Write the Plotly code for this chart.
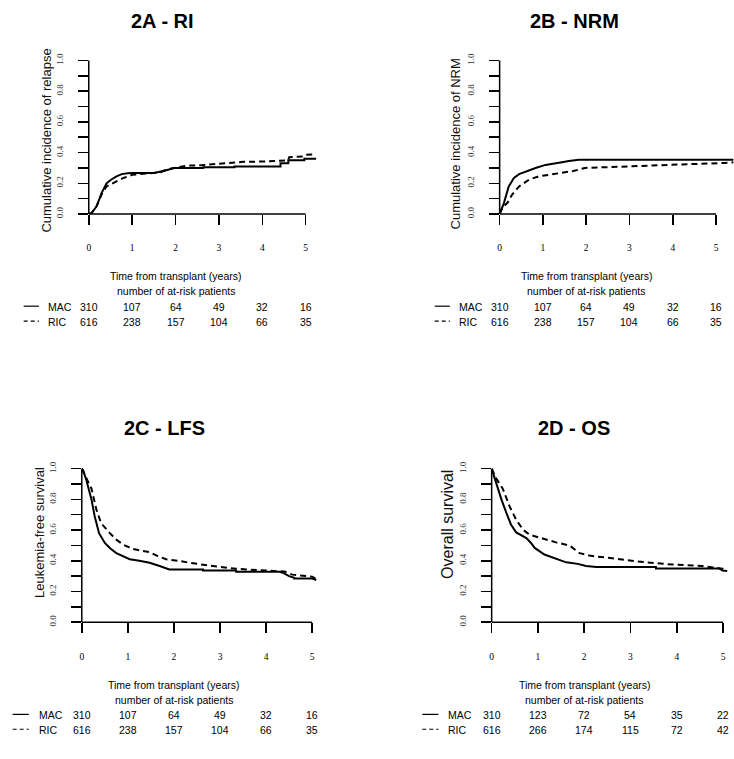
import plotly.graph_objects as go

W, H = 734, 759
OFF = 0

# ---------------- data ----------------
panel_titles = ["2A - RI", "2B - NRM", "2C - LFS", "2D - OS"]
y_titles = ["Cumulative incidence of relapse", "Cumulative incidence of NRM",
            "Leukemia-free survival", "Overall survival"]
x_title = "Time from transplant (years)"
risk_title = "number of at-risk patients"
group_names = ["MAC", "RIC"]

x_tick_vals = [0, 1, 2, 3, 4, 5]
x_tick_text = ["0", "1", "2", "3", "4", "5"]
y_tick_vals = [0.0, 0.1, 0.2, 0.3, 0.4, 0.5, 0.6, 0.7, 0.8, 0.9, 1.0]
y_tick_text = ["0.0", "", "0.2", "", "0.4", "", "0.6", "", "0.8", "", "1.0"]

# 2A - relapse incidence
a_mac_t = [0, 0.06, 0.18, 0.30, 0.41, 0.52, 0.64, 0.76, 0.9, 1.0, 1.5, 1.6, 1.72, 1.85, 1.95,
           2.64, 2.64, 3.36, 3.36, 4.42, 4.42, 4.6, 4.6, 4.97, 4.97, 5.24]
a_mac_v = [0, 0.005, 0.05, 0.14, 0.20, 0.225, 0.245, 0.26, 0.265, 0.267, 0.267, 0.272, 0.28, 0.29, 0.30,
           0.30, 0.305, 0.305, 0.31, 0.31, 0.33, 0.33, 0.35, 0.35, 0.36, 0.36]
a_ric_t = [0, 0.06, 0.18, 0.30, 0.41, 0.64, 0.8, 1.0, 1.3, 1.5, 1.65, 1.8, 2.0, 2.26, 2.6, 2.95,
           3.3, 3.56, 4.0, 4.4, 4.45, 4.6, 4.62, 4.95, 5.0, 5.24]
a_ric_v = [0, 0.005, 0.05, 0.13, 0.18, 0.21, 0.235, 0.255, 0.265, 0.267, 0.272, 0.29, 0.30, 0.315, 0.318, 0.325,
           0.33, 0.34, 0.342, 0.345, 0.35, 0.35, 0.37, 0.375, 0.385, 0.39]

# 2B - non-relapse mortality
b_mac_t = [0, 0.1, 0.21, 0.33, 0.45, 0.6, 0.83, 1.06, 1.2, 1.44, 1.6, 1.83, 5.45]
b_mac_v = [0, 0.073, 0.18, 0.235, 0.26, 0.277, 0.30, 0.32, 0.325, 0.337, 0.345, 0.353, 0.353]
b_ric_t = [0, 0.06, 0.18, 0.29, 0.45, 0.68, 0.9, 1.2, 1.44, 1.7, 1.97, 2.5, 2.98, 3.6, 4.2, 4.8, 5.2, 5.45]
b_ric_v = [0, 0.04, 0.073, 0.127, 0.18, 0.224, 0.245, 0.257, 0.267, 0.28, 0.30, 0.305, 0.31, 0.315,
           0.32, 0.325, 0.333, 0.338]

# 2C - leukemia-free survival
c_mac_t = [0, 0.03, 0.1, 0.21, 0.28, 0.375, 0.5, 0.62, 0.75, 0.9, 1.04, 1.25, 1.47, 1.69, 1.9,
           2.63, 2.63, 3.35, 3.35, 4.3, 4.38, 4.5, 4.61, 4.61, 5.0, 5.09]
c_mac_v = [1.0, 0.99, 0.925, 0.80, 0.69, 0.58, 0.516, 0.48, 0.45, 0.43, 0.41, 0.40, 0.387, 0.366, 0.344,
           0.344, 0.337, 0.337, 0.328, 0.328, 0.32, 0.30, 0.29, 0.284, 0.284, 0.275]
c_ric_t = [0, 0.05, 0.1, 0.21, 0.32, 0.42, 0.61, 0.75, 0.9, 1.11, 1.3, 1.47, 1.65, 1.83, 2.1, 2.34,
           2.84, 3.35, 3.8, 4.14, 4.4, 4.57, 4.8, 5.0, 5.09]
c_ric_v = [1.0, 0.97, 0.935, 0.87, 0.73, 0.645, 0.58, 0.538, 0.505, 0.477, 0.465, 0.456, 0.43, 0.41, 0.40,
           0.387, 0.366, 0.348, 0.34, 0.333, 0.33, 0.31, 0.305, 0.297, 0.28]

# 2D - overall survival
d_mac_t = [0, 0.1, 0.21, 0.32, 0.42, 0.53, 0.65, 0.75, 0.85, 0.93, 1.14, 1.39, 1.61, 1.86, 2.04, 2.26,
           3.55, 3.55, 4.91, 4.99, 5.09]
d_mac_v = [1.0, 0.90, 0.80, 0.71, 0.634, 0.585, 0.565, 0.548, 0.516, 0.484, 0.441, 0.413, 0.39, 0.38,
           0.366, 0.36, 0.36, 0.35, 0.35, 0.337, 0.333]
d_ric_t = [0, 0.1, 0.24, 0.39, 0.53, 0.68, 0.82, 1.11, 1.39, 1.68, 1.8, 1.9, 2.11, 2.5, 2.83, 3.33,
           3.9, 4.55, 4.99, 5.07]
d_ric_v = [1.0, 0.935, 0.87, 0.753, 0.667, 0.602, 0.57, 0.542, 0.52, 0.50, 0.47, 0.45, 0.434, 0.42,
           0.41, 0.39, 0.376, 0.366, 0.348, 0.34]

# number at risk
a_mac_risk = [310, 107, 64, 49, 32, 16]
a_ric_risk = [616, 238, 157, 104, 66, 35]
b_mac_risk = [310, 107, 64, 49, 32, 16]
b_ric_risk = [616, 238, 157, 104, 66, 35]
c_mac_risk = [310, 107, 64, 49, 32, 16]
c_ric_risk = [616, 238, 157, 104, 66, 35]
d_mac_risk = [310, 123, 72, 54, 35, 22]
d_ric_risk = [616, 266, 174, 115, 72, 42]

# ---------------- layout (window pixels) ----------------
panels = [
    dict(x0=87, ppy=43.5, y0=213, xmax=5.4, tx=161, ty=18, ytx=45, yty=139, ytsize=13,
         mac=(a_mac_t, a_mac_v), ric=(a_ric_t, a_ric_v), risk=(a_mac_risk, a_ric_risk)),
    dict(x0=499, ppy=43.4, y0=213, xmax=5.4, tx=574, ty=18, ytx=455, yty=142, ytsize=13,
         mac=(b_mac_t, b_mac_v), ric=(b_ric_t, b_ric_v), risk=(b_mac_risk, b_ric_risk)),
    dict(x0=80, ppy=46.2, y0=625, xmax=5.4, tx=163, ty=429, ytx=37, yty=534, ytsize=13,
         mac=(c_mac_t, c_mac_v), ric=(c_ric_t, c_ric_v), risk=(c_mac_risk, c_ric_risk)),
    dict(x0=491, ppy=46.4, y0=625, xmax=5.2, tx=574, ty=429, ytx=446, yty=526, ytsize=16,
         mac=(d_mac_t, d_mac_v), ric=(d_ric_t, d_ric_v), risk=(d_mac_risk, d_ric_risk)),
]
PPU = 155      # pixels per unit on y
YMAX = 1.03
SANS = "Liberation Sans, Arial, sans-serif"
SERIF = "Liberation Serif, Times New Roman, serif"

fig = go.Figure()
annotations = []
shapes = []
layout_axes = {}


def px(xp):
    return (xp - OFF) / W


def py(yp):
    return 1 - (yp - OFF) / H


for i, p in enumerate(panels):
    n = i + 1
    xs = "x" if n == 1 else f"x{n}"
    ys = "y" if n == 1 else f"y{n}"
    xa = "xaxis" if n == 1 else f"xaxis{n}"
    ya = "yaxis" if n == 1 else f"yaxis{n}"

    for (t, v), dash in ((p["mac"], "solid"), (p["ric"], "6px,4px")):
        fig.add_trace(go.Scatter(x=t, y=v, xaxis=xs, yaxis=ys, mode="lines",
                                 line=dict(color="black", width=2, dash=dash),
                                 showlegend=False, hoverinfo="skip"))

    right = min(p["x0"] + p["xmax"] * p["ppy"], OFF + W)
    layout_axes[xa] = dict(
        domain=[px(p["x0"]), px(right)],
        range=[0, (right - p["x0"]) / p["ppy"]], anchor=ys,
        showgrid=False, zeroline=False, showline=False,
        ticks="outside", ticklen=10, tickwidth=1.5, tickcolor="black",
        tickvals=x_tick_vals, ticktext=x_tick_text, ticklabelstandoff=15,
        tickfont=dict(family=SERIF, size=9.5, color="black"), fixedrange=True)
    layout_axes[ya] = dict(
        domain=[py(p["y0"]), py(p["y0"] - YMAX * PPU)],
        range=[0, YMAX], anchor=xs, showgrid=False, zeroline=False, showline=False,
        ticks="outside", ticklen=10, tickwidth=1.5, tickcolor="black",
        tickvals=y_tick_vals, ticktext=y_tick_text, tickangle=-90, ticklabelstandoff=11,
        tickfont=dict(family=SERIF, size=9, color="#333"), fixedrange=True)

    # axis lines spanning the tick range only (R style)
    shapes.append(dict(type="line", xref=xs, yref=f"{ys} domain", x0=0, x1=5, y0=0, y1=0,
                       line=dict(color="black", width=1.5)))
    shapes.append(dict(type="line", xref=f"{xs} domain", yref=ys, x0=0, x1=0, y0=0, y1=1,
                       line=dict(color="black", width=1.5)))

    # titles
    annotations.append(dict(text=f"<b>{panel_titles[i]}</b>", xref="paper", yref="paper",
                            x=px(p["tx"]), y=py(p["ty"]), xanchor="center", yanchor="middle",
                            showarrow=False, font=dict(family=SANS, size=20, color="black")))
    annotations.append(dict(text=y_titles[i], xref="paper", yref="paper", textangle=-90,
                            x=px(p["ytx"]), y=py(p["yty"]), xanchor="center", yanchor="middle",
                            showarrow=False, font=dict(family=SANS, size=p["ytsize"], color="#111")))
    # x title & at-risk header
    for txt, off in ((x_title, 63), (risk_title, 78)):
        annotations.append(dict(text=txt, xref=xs, yref="paper", x=2, y=py(p["y0"] + off),
                                xanchor="center", yanchor="middle", showarrow=False,
                                font=dict(family=SANS, size=10.5, color="black")))
    # at-risk rows
    for row, (name, counts, off, dash) in enumerate(((group_names[0], p["risk"][0], 94, "solid"),
                                                     (group_names[1], p["risk"][1], 109, "4px,3px"))):
        for t, c in zip(x_tick_vals, counts):
            annotations.append(dict(text=str(c), xref=xs, yref="paper", x=t, y=py(p["y0"] + off),
                                    xanchor="center", yanchor="middle", showarrow=False,
                                    font=dict(family=SANS, size=10.5, color="black")))
        annotations.append(dict(text=name, xref="paper", yref="paper",
                                x=px(p["x0"] - 0.98 * p["ppy"]), y=py(p["y0"] + off),
                                xanchor="left", yanchor="middle", showarrow=False,
                                font=dict(family=SANS, size=10.5, color="black")))
        shapes.append(dict(type="line", xref="paper", yref="paper",
                           x0=px(p["x0"] - 1.5 * p["ppy"]), x1=px(p["x0"] - 1.15 * p["ppy"]),
                           y0=py(p["y0"] + off - 1), y1=py(p["y0"] + off - 1),
                           line=dict(color="black", width=1.2, dash=dash)))

fig.update_layout(
    width=W, height=H, autosize=False,
    margin=dict(l=0, r=0, t=0, b=0),
    paper_bgcolor="white", plot_bgcolor="white",
    showlegend=False, annotations=annotations, shapes=shapes,
    **layout_axes)

# remove the default 8px body margin so the figure fills the window exactly
fig.write_html("out.html",
               config={"displayModeBar": False, "staticPlot": True},
               post_script="document.body.style.margin='0px';document.body.style.overflow='hidden';")
